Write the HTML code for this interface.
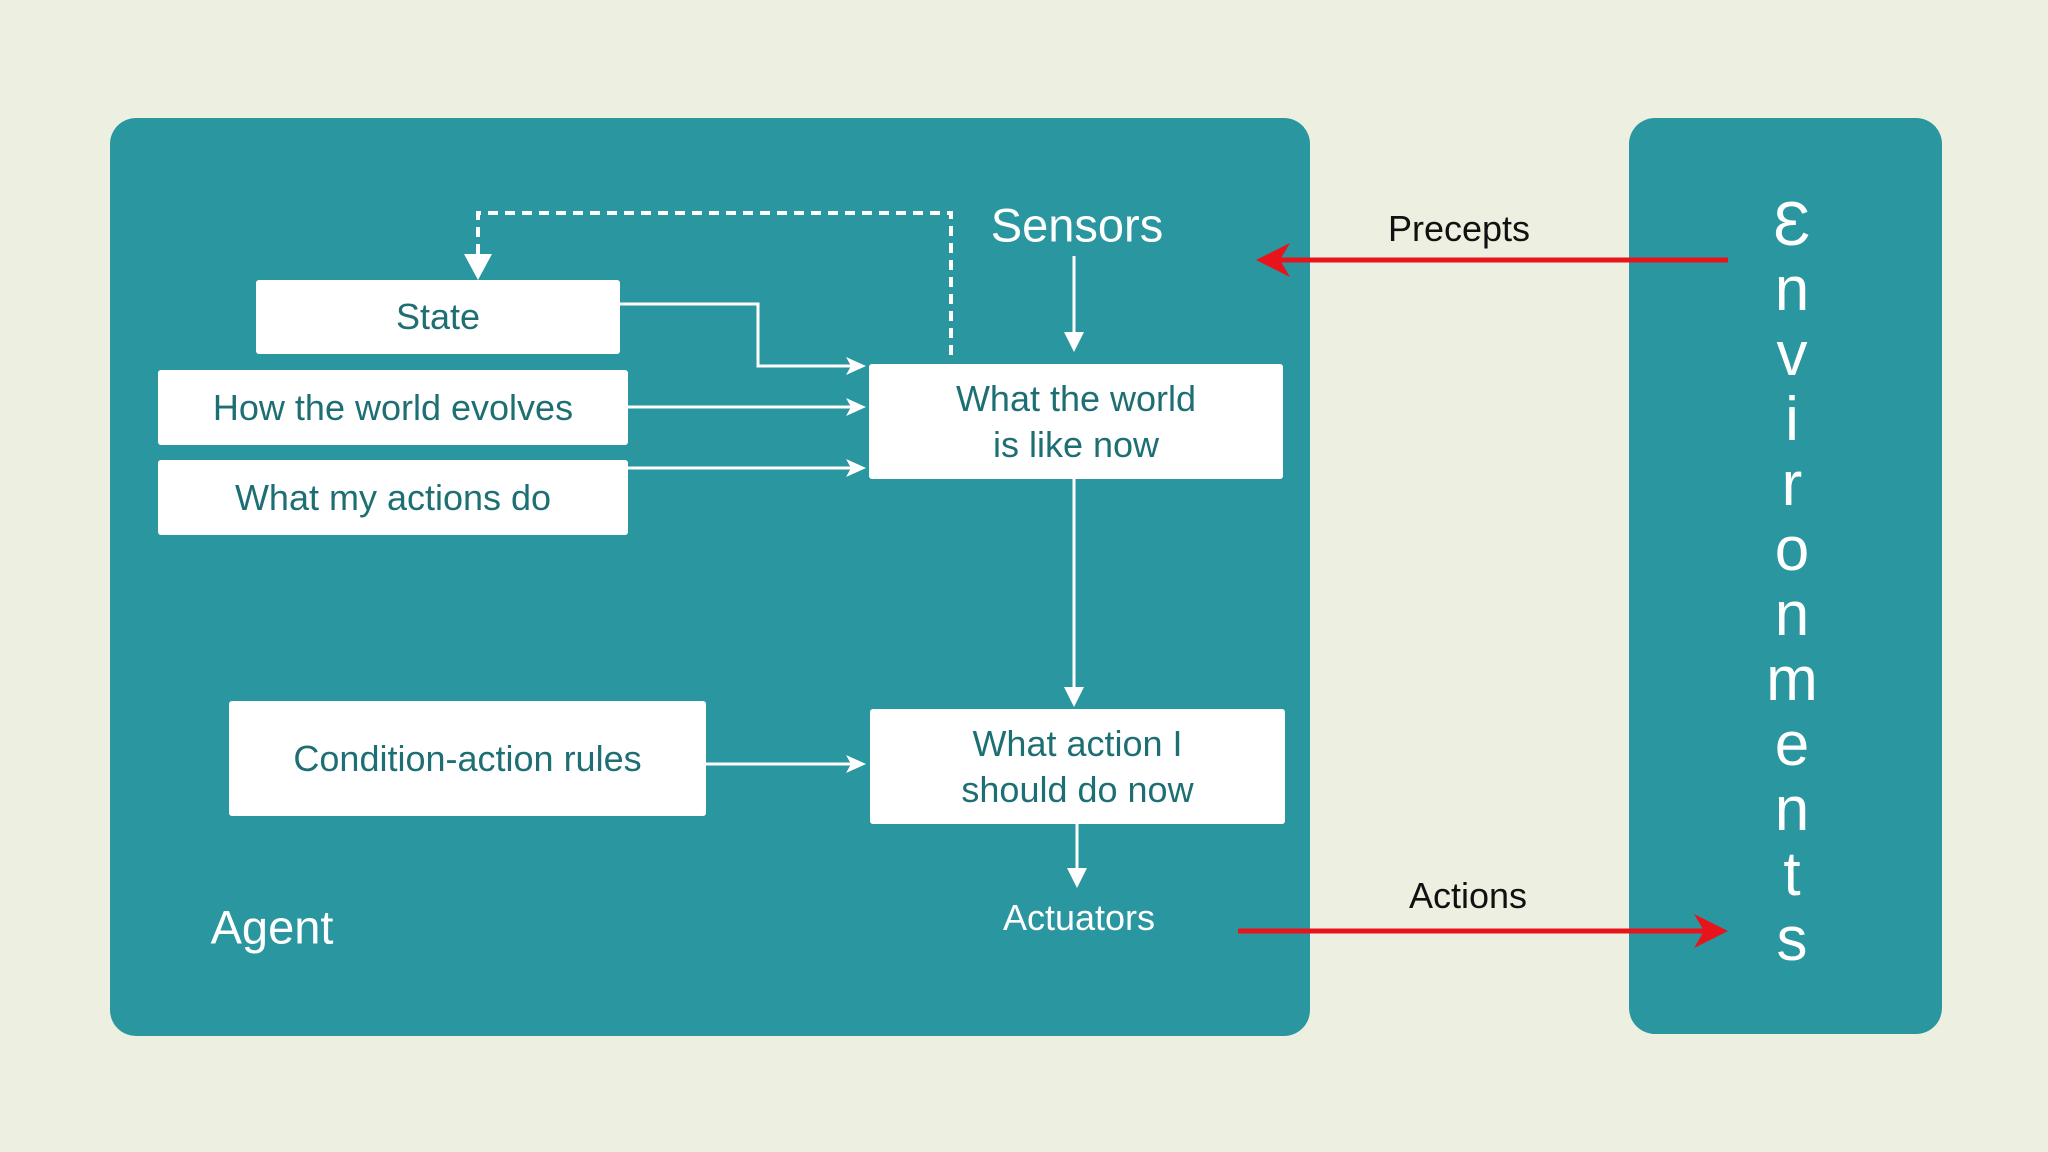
<!DOCTYPE html>
<html><head><meta charset="utf-8"><style>
html,body{margin:0;padding:0}
body{width:2048px;height:1152px;background:#edf0e0;position:relative;overflow:hidden;font-family:"Liberation Sans","DejaVu Sans",sans-serif}
.p{position:absolute;background:#2a969f;border-radius:26px}
.b{position:absolute;background:#fff;border-radius:3px;color:#1e6f74;font-size:36px;display:flex;align-items:center;justify-content:center;text-align:center;line-height:46px}
.t{position:absolute;white-space:nowrap;transform:translate(-50%,-50%)}
.e{position:absolute;left:1792px;transform:translate(-50%,-50%);color:#fff;font-size:62px;line-height:1}
</style></head><body>
<div class="p" style="left:110px;top:118px;width:1200px;height:918px"></div>
<div class="p" style="left:1629px;top:118px;width:313px;height:916px"></div>
<div class="b" style="left:256px;top:280px;width:364px;height:74px">State</div>
<div class="b" style="left:158px;top:370px;width:470px;height:75px">How the world evolves</div>
<div class="b" style="left:158px;top:460px;width:470px;height:75px">What my actions do</div>
<div class="b" style="left:869px;top:364px;width:414px;height:115px">What the world<br>is like now</div>
<div class="b" style="left:229px;top:701px;width:477px;height:115px">Condition-action rules</div>
<div class="b" style="left:870px;top:709px;width:415px;height:115px">What action I<br>should do now</div>
<div class="t" style="left:1077px;top:225px;color:#fff;font-size:47px">Sensors</div>
<div class="t" style="left:1079px;top:918px;color:#fff;font-size:36px">Actuators</div>
<div class="t" style="left:272px;top:927px;color:#fff;font-size:47px">Agent</div>
<div class="t" style="left:1459px;top:229px;color:#111;font-size:36px">Precepts</div>
<div class="t" style="left:1468px;top:896px;color:#111;font-size:36px">Actions</div>
<div class="e" style="top:225px">Ɛ</div>
<div class="e" style="top:290px">n</div>
<div class="e" style="top:355px">v</div>
<div class="e" style="top:420px">i</div>
<div class="e" style="top:485px">r</div>
<div class="e" style="top:550px">o</div>
<div class="e" style="top:615px">n</div>
<div class="e" style="top:680px">m</div>
<div class="e" style="top:745px">e</div>
<div class="e" style="top:810px">n</div>
<div class="e" style="top:875px">t</div>
<div class="e" style="top:940px">s</div>
<svg width="2048" height="1152" style="position:absolute;left:0;top:0">
<g stroke="#fff" stroke-width="3" fill="none">
<path d="M951 355 V213 H478 V258" stroke-dasharray="10 7" stroke-width="4"/>
<path d="M1074 256 V340"/>
<path d="M620 304 H758 V366 H852"/>
<path d="M628 407 H852"/>
<path d="M628 468 H852"/>
<path d="M1074 479 V695"/>
<path d="M706 764 H852"/>
<path d="M1077 824 V876"/>
</g>
<g fill="#fff">
<path d="M464 254 L492 254 L478 280 Z"/>
<path d="M1064 332 L1084 332 L1074 352 Z"/>
<path d="M846 357 L866 366 L846 375 L851 366 Z"/>
<path d="M846 398 L866 407 L846 416 L851 407 Z"/>
<path d="M846 459 L866 468 L846 477 L851 468 Z"/>
<path d="M1064 687 L1084 687 L1074 707 Z"/>
<path d="M846 755 L866 764 L846 773 L851 764 Z"/>
<path d="M1067 868 L1087 868 L1077 888 Z"/>
</g>
<g stroke="#e8141c" stroke-width="5" fill="none">
<path d="M1728 260 H1275"/>
<path d="M1238 931 H1705"/>
</g>
<g fill="#e8141c">
<path d="M1256 260 L1290 243 L1280 260 L1290 277 Z"/>
<path d="M1728 931 L1694 914 L1704 931 L1694 948 Z"/>
</g>
</svg>
</body></html>
